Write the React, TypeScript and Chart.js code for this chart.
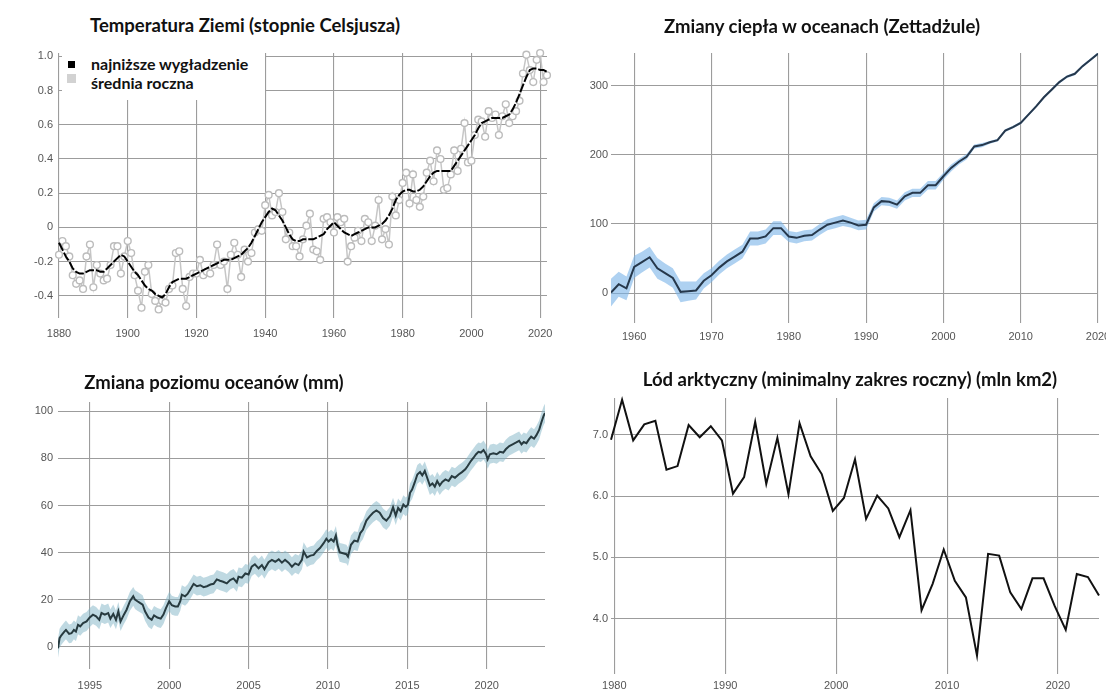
import React, { useEffect, useRef } from "react";
import { Chart, registerables } from "chart.js";

Chart.register(...registerables);

// ---------------- DATA ----------------
// Temperatura Ziemi (anomalia, °C), lata 1880–2022
const TEMP_START = 1880;
const tempAnnual = [
  -0.16, -0.08, -0.11, -0.17, -0.28, -0.33, -0.31, -0.36, -0.17, -0.1,
  -0.35, -0.22, -0.27, -0.31, -0.3, -0.22, -0.11, -0.11, -0.27, -0.17,
  -0.08, -0.15, -0.28, -0.37, -0.47, -0.26, -0.22, -0.39, -0.43, -0.48,
  -0.43, -0.44, -0.36, -0.34, -0.15, -0.14, -0.36, -0.46, -0.29, -0.27,
  -0.27, -0.19, -0.28, -0.26, -0.27, -0.22, -0.1, -0.22, -0.2, -0.36,
  -0.16, -0.09, -0.16, -0.29, -0.13, -0.2, -0.15, -0.03, -0.01, -0.02,
  0.13, 0.19, 0.07, 0.09, 0.2, 0.09, -0.07, -0.03, -0.11, -0.11,
  -0.17, -0.07, 0.01, 0.08, -0.13, -0.14, -0.19, 0.05, 0.06, 0.03,
  -0.03, 0.06, 0.03, 0.05, -0.2, -0.11, -0.06, -0.02, -0.08, 0.05,
  0.03, -0.08, 0.01, 0.16, -0.07, -0.01, -0.1, 0.18, 0.07, 0.16,
  0.26, 0.32, 0.14, 0.31, 0.16, 0.12, 0.18, 0.32, 0.39, 0.27,
  0.45, 0.4, 0.22, 0.23, 0.31, 0.45, 0.33, 0.46, 0.61, 0.38,
  0.39, 0.54, 0.63, 0.62, 0.53, 0.68, 0.64, 0.66, 0.54, 0.65,
  0.72, 0.61, 0.65, 0.68, 0.74, 0.9, 1.01, 0.92, 0.85, 0.98,
  1.02, 0.85, 0.89,
];
const tempLowess = [
  -0.09, -0.13, -0.17, -0.2, -0.24, -0.26, -0.27, -0.27, -0.26, -0.25,
  -0.25, -0.25, -0.26, -0.26, -0.24, -0.22, -0.2, -0.18, -0.16, -0.17,
  -0.2, -0.23, -0.26, -0.28, -0.31, -0.34, -0.36, -0.37, -0.39, -0.4,
  -0.41, -0.39, -0.35, -0.32, -0.31, -0.3, -0.3, -0.3, -0.29, -0.28,
  -0.27, -0.26, -0.25, -0.24, -0.23, -0.22, -0.21, -0.2, -0.19, -0.19,
  -0.19, -0.18, -0.17, -0.16, -0.14, -0.12, -0.09, -0.05, -0.01, 0.03,
  0.06, 0.09, 0.11, 0.1, 0.07, 0.04, 0.0, -0.04, -0.07, -0.08,
  -0.08, -0.07, -0.07, -0.07, -0.07, -0.06, -0.05, -0.04, -0.01, 0.01,
  0.03, 0.01, -0.01, -0.03, -0.04, -0.05, -0.04, -0.03, -0.02, -0.01,
  0.0, 0.0, 0.0, 0.01, 0.02, 0.04, 0.07, 0.11, 0.16, 0.19,
  0.21, 0.22, 0.22, 0.21, 0.21, 0.22, 0.24, 0.27, 0.3, 0.32,
  0.33, 0.33, 0.33, 0.33, 0.33, 0.36, 0.39, 0.42, 0.45, 0.48,
  0.51, 0.54, 0.58, 0.61, 0.62, 0.63, 0.64, 0.64, 0.64, 0.64,
  0.65, 0.66, 0.69, 0.73, 0.78, 0.83, 0.88, 0.92, 0.93, 0.93,
  0.92, 0.92, 0.91,
];
const tempYTicks = [-0.4, -0.2, 0, 0.2, 0.4, 0.6, 0.8, 1.0];
const tempXTicks = [1880, 1900, 1920, 1940, 1960, 1980, 2000, 2020];

// Zmiany ciepła w oceanach (ZJ), lata 1957–2020
const HEAT_START = 1957;
const heatValues = [
  1, 13, 7,
  38, 45, 52, 36, 29, 22, 2, 3, 4, 18,
  26, 37, 46, 53, 60, 79, 79, 82, 94, 94,
  82, 80, 83, 84, 92, 99, 102, 105, 102, 98,
  99, 124, 133, 132, 128, 140, 145, 145, 156, 156,
  169, 181, 190, 197, 212, 214, 218, 221, 235, 240,
  246, 258, 270, 283, 294, 305, 313, 317, 328, 337,
  346,
];
const heatUncertainty = [
  20, 18, 17,
  16, 15, 15, 15, 14, 14, 15, 14, 13, 11,
  10, 10, 10, 10, 10, 10, 10, 10, 10, 10,
  8, 8, 8, 8, 8, 8, 8, 8, 7, 7,
  7, 6, 6, 6, 6, 6, 6, 6, 6, 6,
  5, 5, 4, 4, 3, 3, 2, 2, 2, 2,
  2, 2, 2, 2, 2, 2, 2, 2, 2, 2,
  2,
];
const heatYTicks = [0, 100, 200, 300];
const heatXTicks = [1960, 1970, 1980, 1990, 2000, 2010, 2020];

// Zmiana poziomu oceanów (mm), 1993–2023
const seaTimes = [
  1993.0, 1993.1, 1993.2, 1993.4, 1993.5, 1993.7, 1993.85, 1994.0, 1994.13, 1994.26,
  1994.4, 1994.58, 1994.8, 1995.0, 1995.2, 1995.4, 1995.6, 1995.74, 1995.95, 1996.16,
  1996.3, 1996.48, 1996.65, 1996.8, 1996.94, 1997.15, 1997.32, 1997.53, 1997.74, 1997.85,
  1998.0, 1998.16, 1998.33, 1998.48, 1998.7, 1998.9, 1999.05, 1999.26, 1999.47, 1999.64,
  1999.8, 2000.0, 2000.17, 2000.38, 2000.55, 2000.7, 2000.8, 2001.0, 2001.16, 2001.33,
  2001.54, 2001.75, 2001.96, 2002.17, 2002.38, 2002.6, 2002.8, 2003.0, 2003.2, 2003.4,
  2003.63, 2003.84, 2004.05, 2004.26, 2004.37, 2004.58, 2004.8, 2005.0, 2005.2, 2005.4,
  2005.63, 2005.84, 2006.0, 2006.26, 2006.47, 2006.68, 2006.9, 2007.1, 2007.3, 2007.52,
  2007.73, 2007.94, 2008.15, 2008.36, 2008.47, 2008.68, 2008.9, 2009.1, 2009.3, 2009.5,
  2009.73, 2009.9, 2010.04, 2010.2, 2010.36, 2010.5, 2010.6, 2010.74, 2010.95, 2011.16,
  2011.26, 2011.45, 2011.66, 2011.87, 2012.04, 2012.2, 2012.42, 2012.63, 2012.84, 2013.05,
  2013.26, 2013.47, 2013.68, 2013.9, 2014.1, 2014.27, 2014.42, 2014.58, 2014.75, 2014.9,
  2015.04, 2015.17, 2015.3, 2015.46, 2015.63, 2015.8, 2015.94, 2016.1, 2016.25, 2016.42,
  2016.58, 2016.73, 2016.88, 2017.04, 2017.2, 2017.4, 2017.6, 2017.8, 2018.0, 2018.23,
  2018.44, 2018.65, 2018.8, 2019.0, 2019.17, 2019.33, 2019.48, 2019.63, 2019.8, 2019.96,
  2020.06, 2020.2, 2020.42, 2020.63, 2020.83, 2021.04, 2021.2, 2021.42, 2021.63, 2021.83,
  2022.04, 2022.19, 2022.33, 2022.5, 2022.67, 2022.8, 2022.98, 2023.13, 2023.3, 2023.44,
  2023.58, 2023.67,
];
const seaLevels = [
  -0.7, 3.6, 4.7, 6.4, 7.1, 5.4, 5.7, 7.1, 6.4, 9.3,
  8.6, 10.0, 10.7, 12.4, 13.6, 12.9, 11.4, 14.3, 13.6, 14.3,
  11.9, 13.9, 11.4, 15.0, 10.7, 13.6, 15.7, 19.3, 21.4, 20.0,
  19.3, 18.6, 17.9, 15.0, 12.4, 11.4, 13.3, 12.4, 11.9, 13.6,
  16.4, 19.3, 17.6, 17.1, 17.1, 19.3, 22.1, 21.4, 22.4, 24.3,
  26.7, 25.7, 26.1, 25.3, 25.7, 26.4, 26.7, 28.6, 28.0, 27.6,
  26.9, 28.3, 29.0, 27.3, 29.7, 29.3, 31.1, 30.7, 34.0, 35.0,
  33.3, 34.7, 32.9, 35.9, 36.9, 36.1, 37.1, 35.7, 36.9, 35.7,
  34.0, 35.4, 34.7, 36.9, 40.4, 37.9, 38.7, 39.0, 40.7, 41.9,
  44.0, 45.9, 44.7, 45.7, 44.7, 47.3, 43.3, 40.1, 39.7, 39.3,
  38.3, 43.3, 45.1, 44.7, 48.3, 49.7, 53.6, 55.4, 56.9, 57.9,
  56.9, 54.7, 53.6, 55.4, 59.3, 55.7, 59.0, 57.6, 60.4, 59.4,
  60.4, 65.4, 66.8, 69.7, 73.2, 74.2, 72.8, 74.7, 71.8, 68.5,
  69.4, 68.0, 70.4, 68.5, 70.0, 71.1, 70.4, 72.5, 71.8, 73.2,
  74.2, 75.4, 76.8, 78.9, 80.3, 81.8, 82.8, 82.5, 83.6, 81.8,
  79.6, 81.8, 82.2, 81.8, 82.8, 82.5, 83.9, 85.3, 86.0, 86.7,
  87.5, 86.0, 87.0, 86.5, 88.2, 89.3, 88.4, 89.9, 92.1, 95.3,
  98.1, 99.3,
];
const SEA_UNCERTAINTY = 4;
const seaYTicks = [0, 20, 40, 60, 80, 100];
const seaXTicks = [1995, 2000, 2005, 2010, 2015, 2020];

// Lód arktyczny – minimum roczne (mln km2), 1979–2023 (minimum we wrześniu)
const ICE_START = 1979;
const ICE_MINIMUM_OFFSET = 0.7; // część roku, w której przypada minimum (wrzesień)
const iceValues = [
  6.92, 7.57, 6.91, 7.17, 7.23, 6.43, 6.49, 7.16, 6.96, 7.14, 6.91,
  6.04, 6.31, 7.21, 6.2, 6.95, 6.03, 7.19, 6.65, 6.36, 5.76,
  5.97, 6.6, 5.63, 6.01, 5.8, 5.33, 5.77, 4.14, 4.57, 5.13,
  4.62, 4.35, 3.4, 5.06, 5.03, 4.43, 4.16, 4.66, 4.66, 4.21,
  3.82, 4.73, 4.68, 4.38,
];
const iceYTicks = [4, 5, 6, 7];
const iceXTicks = [1980, 1990, 2000, 2010, 2020];

// ---------------- STYLE ----------------
const GRID = "#9c9c9c";
const TICK = "#555555";
const TICK_FONT = { family: "'Liberation Sans', Arial, sans-serif", size: 11 };
const TITLE_FONT = "Lato, 'Open Sans', sans-serif";

type AxisOpts = {
  min: number;
  max: number;
  ticks: number[];
  fmt: (v: number) => string;
  size: number;
  horizontal: boolean;
  padding: number;
};

function axis(o: AxisOpts): any {
  return {
    type: "linear",
    min: o.min,
    max: o.max,
    afterBuildTicks: (s: any) => {
      s.ticks = o.ticks.map((v) => ({ value: v }));
    },
    afterFit: (s: any) => {
      if (o.horizontal) s.height = o.size;
      else s.width = o.size;
    },
    grid: { color: GRID, lineWidth: 1.1, drawTicks: false },
    border: { display: false },
    ticks: {
      autoSkip: false,
      maxRotation: 0,
      padding: o.padding,
      color: TICK,
      font: TICK_FONT,
      callback: (v: any) => o.fmt(Number(v)),
    },
  };
}

function baseOptions(padding: any, x: any, y: any): any {
  return {
    animation: false,
    responsive: false,
    maintainAspectRatio: false,
    layout: { padding, autoPadding: false },
    plugins: { legend: { display: false }, tooltip: { enabled: false } },
    scales: { x, y },
  };
}

const yearFmt = (v: number) => String(v);

function tempConfig(): any {
  const years = tempAnnual.map((_, i) => TEMP_START + i);
  return {
    type: "line",
    data: {
      datasets: [
        {
          label: "najniższe wygładzenie",
          data: years.map((x, i) => ({ x, y: tempLowess[i] })),
          borderColor: "#000000",
          borderWidth: 2,
          borderDash: [9, 2],
          pointRadius: 0,
          clip: 6,
          order: 0,
        },
        {
          label: "średnia roczna",
          data: years.map((x, i) => ({ x, y: tempAnnual[i] })),
          borderColor: "#c6c6c6",
          borderWidth: 1.5,
          pointRadius: 3.4,
          pointBorderColor: "#bcbcbc",
          pointBackgroundColor: "#ffffff",
          pointBorderWidth: 1.4,
          clip: 6,
          order: 1,
        },
      ],
    },
    options: baseOptions(
      { left: 0, top: 13, right: 23, bottom: 4 },
      axis({ min: 1880, max: 2022, ticks: tempXTicks, fmt: yearFmt, size: 30, horizontal: true, padding: 9 }),
      axis({
        min: -0.53,
        max: 1.02,
        ticks: tempYTicks,
        fmt: (v) => (Math.abs(v) < 1e-9 ? "0" : v.toFixed(1)),
        size: 59,
        horizontal: false,
        padding: 6,
      })
    ),
  };
}

function heatConfig(): any {
  const years = heatValues.map((_, i) => HEAT_START + i);
  return {
    type: "line",
    data: {
      datasets: [
        {
          label: "ciepło",
          data: years.map((x, i) => ({ x, y: heatValues[i] })),
          borderColor: "#26384c",
          borderWidth: 2,
          pointRadius: 0,
        },
        {
          label: "górna granica",
          data: years.map((x, i) => ({ x, y: heatValues[i] + heatUncertainty[i] })),
          borderColor: "transparent",
          borderWidth: 0,
          pointRadius: 0,
          backgroundColor: "rgba(120,178,232,0.6)",
          fill: "+1",
        },
        {
          label: "dolna granica",
          data: years.map((x, i) => ({ x, y: heatValues[i] - heatUncertainty[i] })),
          borderColor: "transparent",
          borderWidth: 0,
          pointRadius: 0,
          fill: false,
        },
      ],
    },
    options: baseOptions(
      { left: 0, top: 13, right: 32, bottom: 0 },
      axis({ min: 1957, max: 2020, ticks: heatXTicks, fmt: yearFmt, size: 29, horizontal: true, padding: 7 }),
      axis({ min: -43, max: 347, ticks: heatYTicks, fmt: (v) => String(v), size: 51, horizontal: false, padding: 3 })
    ),
  };
}

function seaConfig(): any {
  return {
    type: "line",
    data: {
      datasets: [
        {
          label: "poziom",
          data: seaTimes.map((x, i) => ({ x, y: seaLevels[i] })),
          borderColor: "#283b40",
          borderWidth: 2,
          pointRadius: 0,
        },
        {
          label: "górna granica",
          data: seaTimes.map((x, i) => ({ x, y: seaLevels[i] + SEA_UNCERTAINTY })),
          borderColor: "transparent",
          borderWidth: 0,
          pointRadius: 0,
          backgroundColor: "rgba(128,180,198,0.5)",
          fill: "+1",
        },
        {
          label: "dolna granica",
          data: seaTimes.map((x, i) => ({ x, y: seaLevels[i] - SEA_UNCERTAINTY })),
          borderColor: "transparent",
          borderWidth: 0,
          pointRadius: 0,
          fill: false,
        },
      ],
    },
    options: baseOptions(
      { left: 0, top: 14, right: 25, bottom: 0 },
      axis({ min: 1993, max: 2023.67, ticks: seaXTicks, fmt: yearFmt, size: 22, horizontal: true, padding: 10 }),
      axis({ min: -9.5, max: 104, ticks: seaYTicks, fmt: (v) => String(v), size: 58, horizontal: false, padding: 5 })
    ),
  };
}

function iceConfig(): any {
  const xs = iceValues.map((_, i) => ICE_START + i + ICE_MINIMUM_OFFSET);
  return {
    type: "line",
    data: {
      datasets: [
        {
          label: "lód",
          data: xs.map((x, i) => ({ x, y: iceValues[i] })),
          borderColor: "#111111",
          borderWidth: 2,
          pointRadius: 0,
          clip: 4,
        },
      ],
    },
    options: baseOptions(
      { left: 0, top: 10, right: 7, bottom: 0 },
      axis({
        min: ICE_START + ICE_MINIMUM_OFFSET,
        max: ICE_START + iceValues.length - 1 + ICE_MINIMUM_OFFSET,
        ticks: iceXTicks,
        fmt: yearFmt,
        size: 17,
        horizontal: true,
        padding: 5,
      }),
      axis({ min: 3.1, max: 7.6, ticks: iceYTicks, fmt: (v) => v.toFixed(1), size: 51, horizontal: false, padding: 3 })
    ),
  };
}

// ---------------- COMPONENTS ----------------
function ChartCanvas(props: { left: number; top: number; width: number; height: number; config: () => any }) {
  const ref = useRef<HTMLCanvasElement>(null);
  useEffect(() => {
    const chart = new Chart(ref.current as HTMLCanvasElement, props.config());
    return () => chart.destroy();
  }, []);
  return (
    <canvas
      ref={ref}
      width={props.width}
      height={props.height}
      style={{ position: "absolute", left: props.left, top: props.top, width: props.width, height: props.height }}
    />
  );
}

function Title(props: { text: string; cx: number; cy: number }) {
  return (
    <div
      style={{
        position: "absolute",
        left: props.cx,
        top: props.cy - 12,
        transform: "translateX(-50%)",
        whiteSpace: "nowrap",
        fontFamily: TITLE_FONT,
        fontWeight: 700,
        fontSize: 18.5,
        lineHeight: "24px",
        color: "#111",
      }}
    >
      {props.text}
    </div>
  );
}

function Legend() {
  const text: React.CSSProperties = {
    position: "absolute",
    left: 91,
    whiteSpace: "nowrap",
    fontFamily: TITLE_FONT,
    fontWeight: 700,
    fontSize: 16,
    lineHeight: "18px",
    color: "#111",
  };
  return (
    <>
      <div style={{ position: "absolute", left: 62, top: 46, width: 203, height: 54, background: "#fff" }} />
      <div style={{ position: "absolute", left: 68, top: 61, width: 7, height: 7, background: "#000" }} />
      <div style={{ ...text, top: 55 }}>najniższe wygładzenie</div>
      <div style={{ position: "absolute", left: 67, top: 74, width: 9, height: 9, background: "#d2d2d2" }} />
      <div style={{ ...text, top: 74 }}>średnia roczna</div>
    </>
  );
}

export default function App() {
  return (
    <div
      style={{
        position: "absolute",
        left: 0,
        top: 0,
        width: 1106,
        height: 691,
        overflow: "hidden",
        background: "#ffffff",
      }}
    >
      <ChartCanvas left={0} top={40} width={570} height={312} config={tempConfig} />
      <ChartCanvas left={560} top={40} width={570} height={312} config={heatConfig} />
      <ChartCanvas left={0} top={388} width={570} height={303} config={seaConfig} />
      <ChartCanvas left={560} top={388} width={546} height={303} config={iceConfig} />
      <Legend />
      <Title text="Temperatura Ziemi (stopnie Celsjusza)" cx={245} cy={25} />
      <Title text="Zmiany ciepła w oceanach (Zettadżule)" cx={822} cy={26} />
      <Title text="Zmiana poziomu oceanów (mm)" cx={214} cy={382} />
      <Title text="Lód arktyczny (minimalny zakres roczny) (mln km2)" cx={850} cy={379} />
    </div>
  );
}
